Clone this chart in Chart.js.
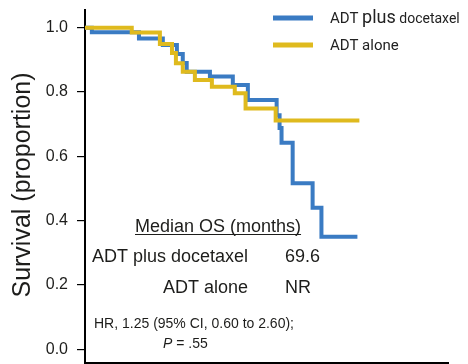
<!DOCTYPE html>
<html>
<head>
<meta charset="utf-8">
<script src="https://cdn.jsdelivr.net/npm/chart.js@4.4.0/dist/chart.umd.min.js"></script>
<style>
  html, body { margin: 0; padding: 0; background: #fff; }
  #wrap { width: 468px; height: 364px; }
</style>
</head>
<body>
<div id="wrap"><canvas id="km" width="468" height="364"></canvas></div>
<script>
// Kaplan-Meier steps: time (months) and survival after each event
const docetaxelTimes = [0, 2.1, 16.5, 23.8, 28.1, 29.9, 31.1, 38.2, 45.2, 49.8, 58.6, 59.5, 60.1, 63.5, 69.6, 72.3, 83.3];
const docetaxelSurv  = [1.0, 0.986, 0.966, 0.946, 0.918, 0.890, 0.863, 0.848, 0.822, 0.775, 0.728, 0.688, 0.642, 0.516, 0.440, 0.350, 0.350];

const aloneTimes = [0, 14.3, 22.9, 26.6, 27.8, 29.9, 33.6, 38.8, 45.8, 49.1, 58.3, 83.9];
const aloneSurv  = [1.0, 0.985, 0.949, 0.921, 0.889, 0.863, 0.837, 0.816, 0.796, 0.749, 0.711, 0.711];

const yTicks = [0, 0.2, 0.4, 0.6, 0.8, 1.0];

const seriesNames = ['ADT plus docetaxel', 'ADT alone'];
const medianRows = [['ADT plus docetaxel', '69.6'], ['ADT alone', 'NR']];

const COLORS = {
    docetaxel: '#3a7bc3',
    alone: '#dfba1e',
    text: '#1d1d1b'
};

function toPoints(times, surv) {
    return times.map((t, i) => ({ x: t, y: surv[i] }));
}

// legend, axis title and the median OS box are drawn by hand
const annotations = {
    id: 'annotations',
    afterDraw(chart) {
        const ctx = chart.ctx;
        ctx.save();

        // y axis title
        ctx.fillStyle = COLORS.text;
        ctx.font = '25px "Liberation Sans", Arial, sans-serif';
        ctx.textAlign = 'center';
        ctx.textBaseline = 'alphabetic';
        ctx.translate(30, 185);
        ctx.rotate(-Math.PI / 2);
        ctx.fillText('Survival (proportion)', 0, 0);
        ctx.setTransform(1, 0, 0, 1, 0, 0);

        // legend
        const legendColors = [COLORS.docetaxel, COLORS.alone];
        const legendY = [18, 45];
        legendColors.forEach((c, i) => {
            ctx.strokeStyle = c;
            ctx.lineWidth = 5;
            ctx.beginPath();
            ctx.moveTo(273, legendY[i]);
            ctx.lineTo(313, legendY[i]);
            ctx.stroke();
        });
        ctx.fillStyle = '#222';
        ctx.textAlign = 'left';
        let x = 330;
        [['ADT ', 15], ['plus', 18], [' docetaxel', 14]].forEach(([txt, size]) => {
            ctx.font = size + 'px Roboto, sans-serif';
            ctx.fillText(txt, x, 23);
            x += ctx.measureText(txt).width;
        });
        ctx.font = '15px Roboto, sans-serif';
        ctx.fillText(seriesNames[1], 330, 50);

        // median OS table
        ctx.fillStyle = COLORS.text;
        ctx.font = '18px "Liberation Sans", Arial, sans-serif';
        ctx.textAlign = 'left';
        const head = 'Median OS (months)';
        ctx.fillText(head, 135, 232);
        const hw = ctx.measureText(head).width;
        ctx.strokeStyle = COLORS.text;
        ctx.lineWidth = 1;
        ctx.beginPath();
        ctx.moveTo(135, 234.5);
        ctx.lineTo(135 + hw, 234.5);
        ctx.stroke();

        const rowY = [262, 293];
        medianRows.forEach(([name, val], i) => {
            ctx.textAlign = 'right';
            ctx.fillText(name, 248, rowY[i]);
            ctx.textAlign = 'left';
            ctx.fillText(val, 285, rowY[i]);
        });

        ctx.font = '14px "Liberation Sans", Arial, sans-serif';
        ctx.fillText('HR, 1.25 (95% CI, 0.60 to 2.60);', 94, 328);
        ctx.font = 'italic 14px "Liberation Sans", Arial, sans-serif';
        ctx.fillText('P', 163, 348);
        const pw = ctx.measureText('P').width;
        ctx.font = '14px "Liberation Sans", Arial, sans-serif';
        ctx.fillText(' = .55', 163 + pw, 348);

        ctx.restore();
    }
};

new Chart(document.getElementById('km'), {
    type: 'line',
    data: {
        datasets: [
            {
                label: seriesNames[0],
                data: toPoints(docetaxelTimes, docetaxelSurv),
                borderColor: COLORS.docetaxel,
                order: 2
            },
            {
                label: seriesNames[1],
                data: toPoints(aloneTimes, aloneSurv),
                borderColor: COLORS.alone,
                order: 1
            }
        ]
    },
    options: {
        responsive: false,
        animation: false,
        devicePixelRatio: 1,
        layout: { padding: { top: 10, right: 20, bottom: 0, left: 0 } },
        elements: {
            point: { radius: 0, hoverRadius: 0 },
            line: { stepped: 'before', borderWidth: 4, tension: 0, fill: false, borderCapStyle: 'butt' }
        },
        plugins: {
            legend: { display: false },
            tooltip: { enabled: false }
        },
        scales: {
            x: {
                type: 'linear',
                min: 0,
                max: 111,
                ticks: { display: false },
                grid: { display: false },
                border: { display: true, color: '#000', width: 2 },
                afterFit(scale) {
                    scale.height = 1;
                    scale.paddingLeft = 0;
                    scale.paddingRight = 0;
                }
            },
            y: {
                type: 'linear',
                min: -0.043,
                max: 1.055,
                afterBuildTicks(scale) {
                    scale.ticks = yTicks.map(v => ({ value: v }));
                },
                afterFit(scale) {
                    // keep the plot edges fixed, labels may hang outside
                    scale.width = 85;
                    scale.paddingTop = 0;
                    scale.paddingBottom = 0;
                },
                ticks: {
                    color: COLORS.text,
                    padding: 9,
                    font: { family: '"Liberation Sans", Arial, sans-serif', size: 16 },
                    callback: v => v.toFixed(1)
                },
                grid: {
                    display: true,
                    drawOnChartArea: false,
                    drawTicks: true,
                    tickLength: 8,
                    color: '#000',
                    lineWidth: 1.2
                },
                border: { display: true, color: '#000', width: 2 }
            }
        }
    },
    plugins: [annotations]
});
</script>
</body>
</html>
